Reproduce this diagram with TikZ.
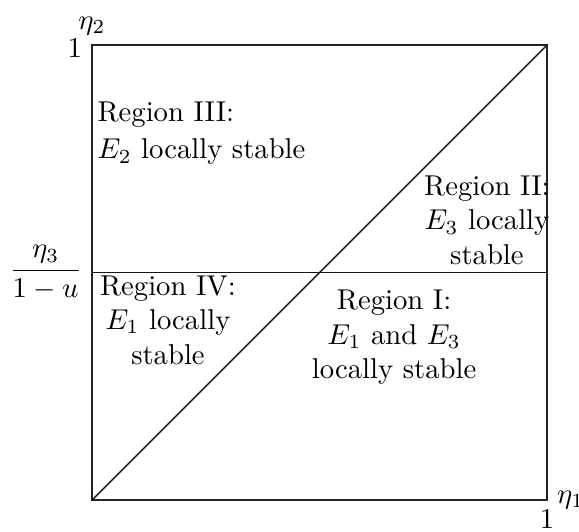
\documentclass[tikz,border=0pt]{standalone}
\usepackage{amsmath}
\usepackage{xcolor}
\definecolor{FrameGray}{RGB}{35,35,35}
\definecolor{LineGray}{RGB}{20,20,20}
\usepackage{tikz}
\usetikzlibrary{calc}
\tikzset{
  % Region labels
  regtext/.style={inner sep=0pt, align=center},
  regtext left/.style={regtext, align=left},
  % Axis labels
  axlabel/.style={inner sep=3.3pt},
  % Lines
  boxframe/.style={draw=FrameGray, line width=1pt},
  divider/.style={draw=LineGray, line width=0.6pt},
  diag/.style={draw=LineGray, line width=0.5pt},
}

\begin{document}
\begin{tikzpicture}[x=5.576cm, y=5.576cm]

  \useasboundingbox (-0.2022,-0.0681) rectangle (1.0703,1.0989);

  %% Corners and midpoints
  \coordinate (O) at (0,0);
  \coordinate (A) at (1,0);
  \coordinate (B) at (1,1);
  \coordinate (C) at (0,1);
  \coordinate (L) at (0,0.5);
  \coordinate (R) at (1,0.5);

  %% Dividing lines
  \draw[diag] (O) -- (B);
  \draw[divider] (L) -- (R);
  \draw[boxframe] (O) rectangle (B);

  %% Axis labels
  \node[axlabel, above] (eta2) at (C) {$\eta_2$};
  \node[axlabel, left, yshift=-1.3pt] (one2) at (C) {$1$};
  \node[axlabel, left] (frac) at (L) {$\dfrac{\eta_3}{1-u}$};
  \node[axlabel, right] (eta1) at (A) {$\eta_1$};
  \node[axlabel, below] (one1) at (A) {$1$};

  %% Regions
  \node[regtext left, anchor=north west] (r3) at (0.011,0.877)
    {Region III:\\[1.2pt] $E_2$ locally stable};
  \node[regtext, anchor=north] (r2) at (0.868,0.714)
    {Region II:\\ $E_3$ locally\\ stable};
  \node[regtext, anchor=north] (r4) at (0.167,0.4945)
    {Region IV:\\ $E_1$ locally\\ stable};
  \node[regtext, anchor=north] (r1) at (0.664,0.462)
    {Region I:\\ $E_1$ and $E_3$\\ locally stable};

\end{tikzpicture}
\end{document}
